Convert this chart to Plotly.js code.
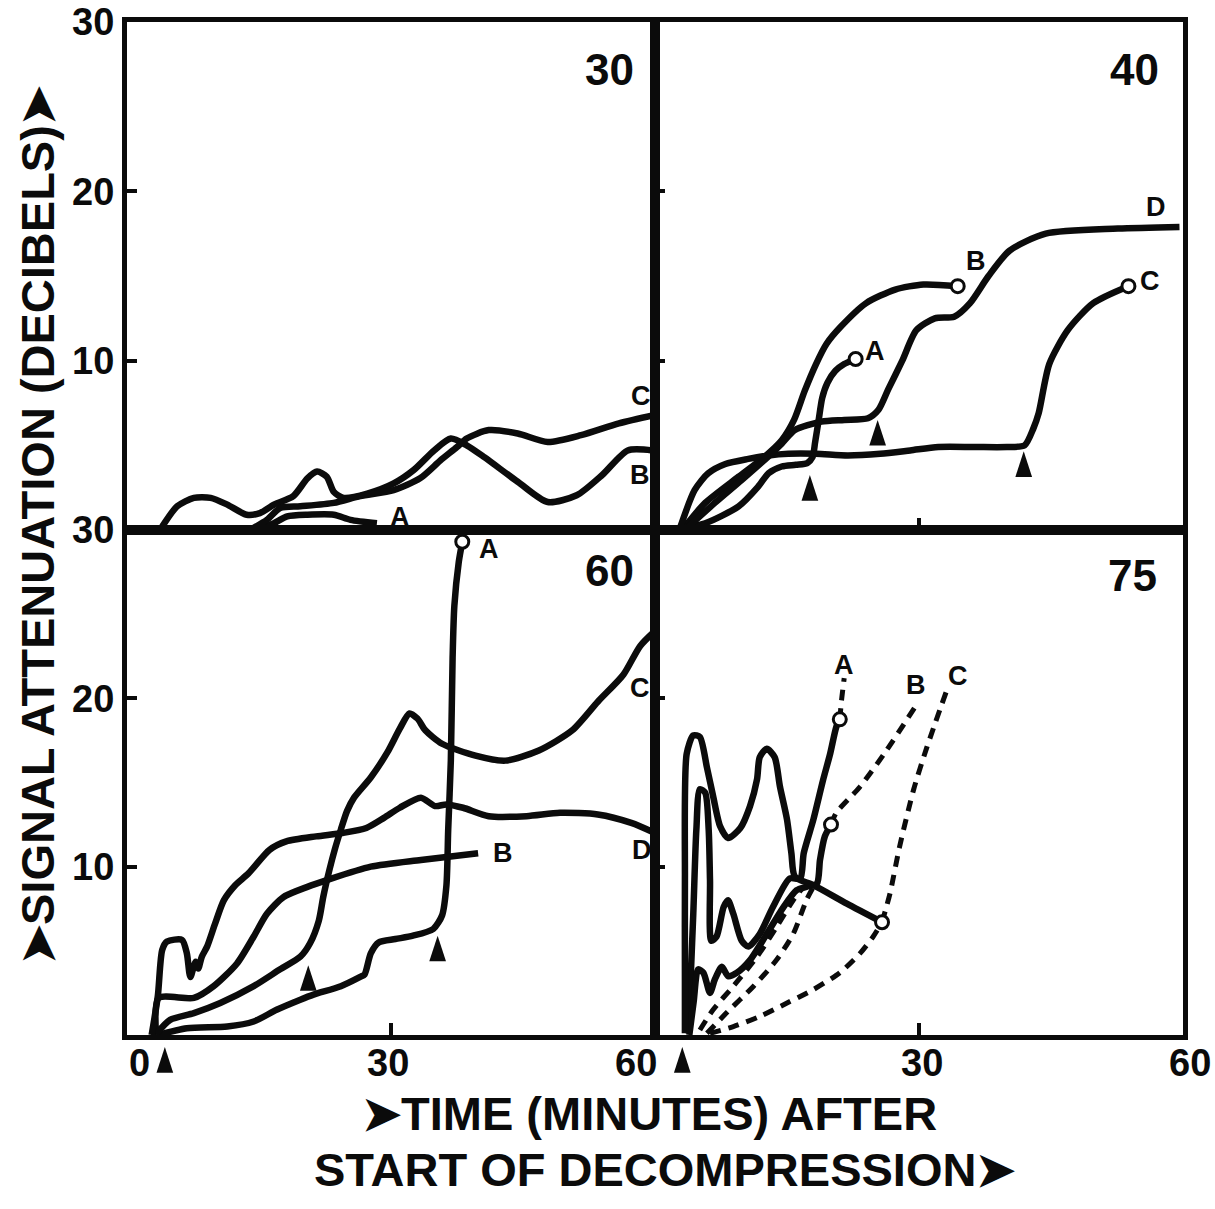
<!DOCTYPE html>
<html><head><meta charset="utf-8">
<script src="https://cdn.plot.ly/plotly-3.0.1.min.js"></script>
<style>html,body{margin:0;padding:0;background:#fff}#chart{width:1215px;height:1209px}</style>
</head><body><div id="chart"></div>
<script>
// ---------- DATA (time in minutes, attenuation in dB) ----------
// Panel "30"
const p30_A_x = [15.2, 16.7, 18.2, 20.5, 23.5, 25.4, 28.4];
const p30_A_y = [0.1, 0.4, 0.8, 0.9, 0.9, 0.6, 0.4];
const p30_B_x = [4.0, 5.7, 7.6, 9.5, 11.4, 13.6, 15.1, 16.7, 18.9, 20.5, 21.6, 22.7, 23.5, 24.6, 27.3, 30.3, 32.6, 34.9, 36.8, 38.6, 40.6, 44.4, 47.8, 51.1, 54.0, 56.9, 59.7];
const p30_B_y = [0.2, 1.4, 1.9, 1.9, 1.5, 0.9, 1.0, 1.5, 2.0, 3.05, 3.45, 3.15, 2.25, 1.9, 2.15, 2.75, 3.55, 4.7, 5.4, 5.0, 4.3, 2.85, 1.65, 2.05, 3.25, 4.7, 4.7];
const p30_C_x = [14.3, 15.9, 17.4, 19.7, 23.5, 26.5, 30.3, 33.3, 35.6, 37.5, 38.6, 41.1, 44.4, 47.8, 51.6, 55.9, 60.0];
const p30_C_y = [0.1, 0.6, 1.3, 1.4, 1.6, 2.0, 2.35, 3.05, 4.1, 4.9, 5.4, 5.9, 5.7, 5.2, 5.6, 6.3, 6.8];

// Panel "40"
const p40_A_x = [3.0, 5.7, 9.5, 11.7, 12.9, 14.4, 16.0, 17.3, 17.9, 18.2, 18.6, 19.0, 19.6, 20.5, 21.5, 22.8];
const p40_A_y = [0.1, 0.4, 1.4, 2.55, 3.35, 3.75, 3.85, 3.95, 4.3, 5.2, 6.5, 7.8, 8.7, 9.4, 9.8, 10.1];
const p40_B_x = [3.4, 5.7, 9.5, 12.5, 14.4, 15.8, 17.0, 18.3, 19.5, 21.1, 24.0, 27.3, 30.5, 34.4];
const p40_B_y = [0.2, 1.6, 3.15, 4.35, 5.3, 6.5, 8.2, 9.8, 11.0, 12.0, 13.4, 14.2, 14.5, 14.4];
const p40_C_x = [2.9, 4.5, 6.05, 8.0, 10.6, 12.9, 15.15, 18.3, 21.9, 25.6, 29.0, 32.2, 36.3, 40.0, 42.0, 43.0, 43.6, 44.8, 46.9, 49.8, 53.8];
const p40_C_y = [0.2, 2.35, 3.35, 3.9, 4.2, 4.4, 4.5, 4.5, 4.4, 4.5, 4.7, 4.9, 4.9, 4.9, 5.0, 6.0, 6.9, 9.8, 11.8, 13.4, 14.4];
const p40_D_x = [3.8, 6.8, 9.85, 12.9, 14.4, 15.9, 18.9, 21.5, 24.2, 25.4, 26.5, 28.1, 29.7, 31.8, 34.0, 35.8, 37.9, 40.3, 44.4, 52.6, 59.6];
const p40_D_y = [0.2, 1.6, 2.95, 4.35, 5.1, 5.9, 6.4, 6.5, 6.6, 7.1, 8.3, 10.0, 11.8, 12.5, 12.6, 13.4, 15.0, 16.5, 17.5, 17.8, 17.9];
const p40_arrow_x = [17.6, 25.3, 41.9];
const p40_arrow_y = [3.25, 6.5, 4.65];

// Panel "60"
const p60_A_x = [3.5, 6.8, 11.4, 14.4, 17.0, 19.7, 21.2, 24.3, 26.5, 27.0, 27.7, 28.6, 30.5, 32.5, 34.8, 35.8, 36.3, 36.5, 36.8, 37.0, 37.2, 37.7, 38.1];
const p60_A_y = [0.0, 0.4, 0.5, 0.8, 1.5, 2.1, 2.4, 2.9, 3.45, 3.6, 4.85, 5.5, 5.7, 5.9, 6.3, 7.1, 8.9, 12.2, 16.3, 22.4, 25.5, 28.1, 29.3];
const p60_B_x = [3.3, 3.6, 7.6, 9.85, 12.5, 14.4, 15.9, 17.8, 20.5, 22.7, 27.7, 33.4, 39.9];
const p60_B_y = [0.0, 2.2, 2.2, 2.9, 4.25, 5.85, 7.2, 8.2, 8.8, 9.2, 10.0, 10.4, 10.8];
const p60_C_x = [3.3, 4.9, 7.6, 10.6, 14.4, 17.4, 19.7, 20.8, 21.8, 22.3, 23.0, 23.6, 24.3, 25.0, 25.8, 27.7, 29.6, 31.0, 32.1, 33.0, 33.9, 35.8, 39.6, 43.0, 46.8, 50.6, 53.5, 56.4, 58.3, 60.0];
const p60_C_y = [0.05, 0.9, 1.3, 1.9, 2.9, 3.9, 4.65, 5.45, 6.8, 8.2, 9.8, 11.0, 12.2, 13.3, 14.1, 15.3, 16.8, 18.2, 19.1, 18.8, 18.1, 17.3, 16.6, 16.3, 16.9, 18.1, 19.8, 21.4, 23.1, 24.0];
const p60_D_x = [2.8, 3.5, 4.0, 4.55, 6.25, 6.8, 7.2, 7.8, 8.1, 8.5, 9.1, 10.0, 11.0, 12.3, 13.8, 16.2, 18.1, 21.5, 24.5, 27.2, 29.2, 31.0, 33.4, 35.0, 36.3, 38.2, 41.1, 45.4, 49.2, 53.5, 57.3, 60.0];
const p60_D_y = [0.0, 2.3, 5.05, 5.55, 5.65, 4.85, 3.45, 4.35, 3.95, 4.65, 5.25, 6.6, 8.0, 8.9, 9.6, 11.0, 11.5, 11.8, 12.0, 12.3, 12.9, 13.5, 14.1, 13.6, 13.7, 13.5, 13.0, 13.0, 13.2, 13.1, 12.6, 12.0];
const p60_arrow_x = [20.6, 35.3];
const p60_arrow_y = [4.15, 5.9];

// Panel "75"
const p75_A_x = [3.8, 4.35, 4.7, 5.1, 5.7, 6.1, 6.25, 6.4, 7.0, 7.8, 8.3, 8.9, 9.85, 10.6, 11.9, 13.4, 15.3, 16.5, 16.9, 18.0, 19.1, 19.9, 20.6, 21.0];
const p75_A_y = [0.1, 7.2, 12.2, 14.6, 14.4, 12.2, 9.2, 5.6, 5.85, 7.6, 8.0, 7.2, 5.6, 5.25, 6.0, 7.6, 9.3, 9.3, 10.8, 12.8, 15.15, 16.7, 18.3, 18.75];
const p75_B_x = [3.9, 4.4, 4.9, 5.5, 6.25, 6.8, 7.6, 8.3, 9.3, 10.8, 12.7, 14.6, 16.1, 17.2, 18.4, 18.75, 19.3, 20.0];
const p75_B_y = [0.0, 2.0, 3.9, 3.7, 2.5, 3.3, 4.05, 3.5, 3.7, 4.45, 6.0, 7.6, 8.6, 8.8, 9.0, 10.4, 11.8, 12.5];
const p75_C_x = [3.4, 3.4, 3.4, 3.6, 4.35, 5.1, 5.9, 6.6, 7.4, 8.3, 9.7, 10.8, 11.6, 11.9, 12.7, 13.6, 14.2, 15.0, 15.5, 15.9, 18.0, 21.8, 25.8];
const p75_C_y = [0.1, 3.3, 9.2, 16.7, 17.8, 17.7, 15.9, 14.2, 12.4, 11.7, 12.3, 13.6, 15.2, 16.5, 17.0, 16.5, 14.75, 12.8, 10.8, 9.4, 8.9, 7.8, 6.7];
// dashed parts (panel 75)
const p75_A_dash_x = [21.0, 21.2, 21.5];
const p75_A_dash_y = [18.75, 19.9, 21.2];
const p75_B_dash_x = [20.0, 20.6, 23.3, 26.3, 29.7];
const p75_B_dash_y = [12.5, 13.2, 14.75, 16.9, 19.6];
const p75_C_dash_x = [25.8, 26.7, 27.8, 29.4, 30.9, 33.1];
const p75_C_dash_y = [6.7, 8.4, 11.2, 14.6, 17.1, 20.4];
const p75_A_dash0_x = [5.1, 6.6, 8.9, 11.6, 13.8, 15.7, 16.85];
const p75_A_dash0_y = [0.3, 1.5, 2.9, 4.65, 6.4, 8.0, 8.8];
const p75_B_dash0_x = [5.9, 8.1, 11.2, 13.8, 15.7, 17.2, 18.0];
const p75_B_dash0_y = [0.1, 1.3, 2.9, 4.45, 6.0, 8.0, 8.8];
const p75_C_dash0_x = [6.25, 8.9, 11.9, 15.0, 18.0, 21.0, 23.3, 24.8, 25.8];
const p75_C_dash0_y = [0.1, 0.5, 1.1, 1.9, 2.7, 3.7, 4.85, 5.85, 6.7];

// start-of-decompression marks (drawn just below the time axis)
const start_left_x = 4.3;
const start_right_x = 3.1;

// tick labels
const yTickVals = [10, 20, 30];
const yTickText = ['10', '20', '30'];
const xTickVals = [0, 30, 60];
const xTickText = ['0', '30', '60'];
const panelNames = ['30', '40', '60', '75'];

// ---------- STYLE / LAYOUT ----------
const INK = '#0b0b0b';
const BOLD = 'Liberation Sans, Arial, sans-serif';
const NARROW = 'Liberation Sans Narrow, Arial Narrow, Liberation Sans, sans-serif';
const axRefs = [['x','y'],['x2','y2'],['x3','y3'],['x4','y4']];

const traces = [];
function curve(p, xs, ys, dashed) {
  traces.push({
    x: xs, y: ys, xaxis: axRefs[p][0], yaxis: axRefs[p][1],
    mode: 'lines', hoverinfo: 'skip', showlegend: false,
    line: {color: INK, width: dashed ? 5 : 6.5, shape: 'spline', smoothing: 0.7,
           dash: dashed ? '11px,8px' : 'solid'}
  });
}
function circles(p, pts) {
  traces.push({
    x: pts.map(q => q[0][q[0].length - 1]), y: pts.map(q => q[1][q[1].length - 1]),
    xaxis: axRefs[p][0], yaxis: axRefs[p][1], mode: 'markers', hoverinfo: 'skip', showlegend: false,
    marker: {symbol: 'circle', size: 13, color: '#fff', line: {color: INK, width: 3}}
  });
}
function arrows(p, xs, ys, standoff) {
  traces.push({
    x: xs, y: ys, xaxis: axRefs[p][0], yaxis: axRefs[p][1], mode: 'markers',
    hoverinfo: 'skip', showlegend: false, cliponaxis: false,
    marker: {symbol: 'arrow', size: 27, color: INK, line: {width: 0}, standoff: standoff || 0}
  });
}

// panel 30
curve(0, p30_A_x, p30_A_y);
curve(0, p30_B_x, p30_B_y);
curve(0, p30_C_x, p30_C_y);
// panel 40
curve(1, p40_A_x, p40_A_y);
curve(1, p40_B_x, p40_B_y);
curve(1, p40_C_x, p40_C_y);
curve(1, p40_D_x, p40_D_y);
circles(1, [[p40_A_x, p40_A_y], [p40_B_x, p40_B_y], [p40_C_x, p40_C_y]]);
arrows(1, p40_arrow_x, p40_arrow_y);
// panel 60
curve(2, p60_A_x, p60_A_y);
curve(2, p60_B_x, p60_B_y);
curve(2, p60_C_x, p60_C_y);
curve(2, p60_D_x, p60_D_y);
circles(2, [[p60_A_x, p60_A_y]]);
arrows(2, p60_arrow_x, p60_arrow_y);
arrows(2, [start_left_x], [0], 12);
// panel 75
curve(3, p75_A_dash0_x, p75_A_dash0_y, true);
curve(3, p75_B_dash0_x, p75_B_dash0_y, true);
curve(3, p75_C_dash0_x, p75_C_dash0_y, true);
curve(3, p75_A_dash_x, p75_A_dash_y, true);
curve(3, p75_B_dash_x, p75_B_dash_y, true);
curve(3, p75_C_dash_x, p75_C_dash_y, true);
curve(3, p75_A_x, p75_A_y);
curve(3, p75_B_x, p75_B_y);
curve(3, p75_C_x, p75_C_y);
circles(3, [[p75_A_x, p75_A_y], [p75_B_x, p75_B_y], [p75_C_x, p75_C_y]]);
arrows(3, [start_right_x], [0], 12);

const W = 1215, H = 1209;
const xL = [127 / W, 655 / W], xR = [655 / W, 1183 / W];
const yT = [(H - 530) / H, (H - 22) / H], yB = [(H - 1035) / H, (H - 530) / H];

function xAxis(dom, anchor, tickAt) {
  return {domain: dom, range: [0, 60], anchor: anchor, showline: true, mirror: true,
    linecolor: INK, linewidth: 5, ticks: 'inside', tickvals: tickAt, ticklen: 12, tickwidth: 4,
    tickcolor: INK, showticklabels: false, showgrid: false, zeroline: false, fixedrange: true};
}
function yAxis(dom, anchor, labels) {
  return {domain: dom, range: [0, 30], anchor: anchor, showline: true, mirror: true,
    linecolor: INK, linewidth: 5, ticks: 'inside', tickvals: yTickVals, ticktext: yTickText,
    ticklen: 10, tickwidth: 4, tickcolor: INK, showticklabels: labels,
    tickfont: {family: NARROW, size: 38, color: INK, weight: 700},
    showgrid: false, zeroline: false, fixedrange: true};
}

const ann = [];
const labelPos = {
  0: [['A', 31.0, 0.75], ['B', 58.3, 3.25], ['C', 58.4, 7.9]],
  1: [['A', 25.0, 10.6], ['B', 36.5, 15.9], ['C', 56.3, 14.7], ['D', 56.9, 19.1]],
  2: [['A', 41.1, 28.9], ['B', 42.7, 10.8], ['C', 58.3, 20.6], ['D', 58.5, 11.0]],
  3: [['A', 21.5, 22.0], ['B', 29.7, 20.8], ['C', 34.4, 21.3]]
};
Object.keys(labelPos).forEach(p => labelPos[p].forEach(l => ann.push({
  xref: axRefs[p][0], yref: axRefs[p][1], x: l[1], y: l[2], text: l[0], showarrow: false,
  xanchor: 'center', yanchor: 'middle',
  font: {family: BOLD, size: 27, color: INK, weight: 700}
})));
const numPos = [[54.8, 27.2], [54.5, 27.2], [54.8, 27.6], [54.3, 27.3]];
panelNames.forEach((n, i) => ann.push({
  xref: axRefs[i][0], yref: axRefs[i][1], x: numPos[i][0], y: numPos[i][1], text: n, showarrow: false,
  xanchor: 'center', yanchor: 'middle',
  font: {family: BOLD, size: 44, color: INK, weight: 700}
}));
// x tick labels
const xlabFont = {family: NARROW, size: 38, color: INK, weight: 700};
const xlabY = (H - 1040) / H;
ann.push({xref: 'x3', yref: 'paper', x: xTickVals[0], y: xlabY, yanchor: 'top', xanchor: 'left',
  text: xTickText[0], showarrow: false, font: xlabFont});
ann.push({xref: 'x3', yref: 'paper', x: xTickVals[1], y: xlabY, yanchor: 'top', xanchor: 'center', xshift: -3,
  text: xTickText[1], showarrow: false, font: xlabFont});
ann.push({xref: 'x3', yref: 'paper', x: xTickVals[2], y: xlabY, yanchor: 'top', xanchor: 'right', xshift: 4,
  text: xTickText[2], showarrow: false, font: xlabFont});
ann.push({xref: 'x4', yref: 'paper', x: xTickVals[1], y: xlabY, yanchor: 'top', xanchor: 'center', xshift: 3,
  text: xTickText[1], showarrow: false, font: xlabFont});
ann.push({xref: 'x4', yref: 'paper', x: xTickVals[2], y: xlabY, yanchor: 'top', xanchor: 'center', xshift: 7,
  text: xTickText[2], showarrow: false, font: xlabFont});
// axis titles
ann.push({xref: 'paper', yref: 'paper', x: 37 / W, y: 1 - 525 / H, xanchor: 'center', yanchor: 'middle',
  textangle: -90, showarrow: false,
  text: '➤SIGNAL ATTENUATION (DECIBELS)➤', font: {family: BOLD, size: 47, color: INK, weight: 700}});
const titleFont = {family: BOLD, size: 47, color: INK, weight: 700};
ann.push({xref: 'paper', yref: 'paper', x: 649 / W, y: 1 - 1113 / H, xanchor: 'center', yanchor: 'middle',
  showarrow: false, text: '➤TIME (MINUTES) AFTER', font: titleFont});
ann.push({xref: 'paper', yref: 'paper', x: 664 / W, y: 1 - 1169 / H, xanchor: 'center', yanchor: 'middle',
  showarrow: false, text: 'START OF DECOMPRESSION➤', font: titleFont});

const layout = {
  width: W, height: H, margin: {l: 0, r: 0, t: 0, b: 0},
  paper_bgcolor: '#fff', plot_bgcolor: 'rgba(0,0,0,0)', showlegend: false,
  xaxis: xAxis(xL, 'y', []), yaxis: yAxis(yT, 'x', true),
  xaxis2: xAxis(xR, 'y2', [30]), yaxis2: yAxis(yT, 'x2', false),
  xaxis3: xAxis(xL, 'y3', [30]), yaxis3: yAxis(yB, 'x3', true),
  xaxis4: xAxis(xR, 'y4', [30]), yaxis4: yAxis(yB, 'x4', false),
  annotations: ann
};
Plotly.newPlot('chart', traces, layout, {displayModeBar: false, staticPlot: true});
</script></body></html>
